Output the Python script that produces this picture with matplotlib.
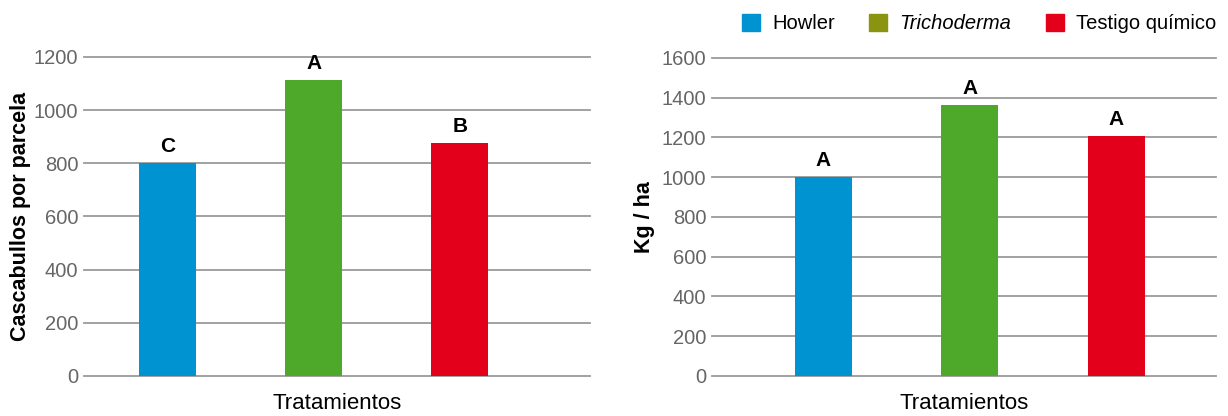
import matplotlib.pyplot as plt
from matplotlib.patches import Patch

plt.rcParams['font.family'] = ['Liberation Sans', 'DejaVu Sans']

# data
tratamientos = ['Howler', 'Trichoderma', 'Testigo químico']
cascabullos = [800, 1113, 876]
letras_cascabullos = ['C', 'A', 'B']
rendimiento = [1000, 1363, 1207]
letras_rendimiento = ['A', 'A', 'A']

bar_colors = ['#0093d1', '#4ea82a', '#e2001a']
legend_colors = ['#0093d1', '#8a9411', '#e2001a']

fig = plt.figure(figsize=(12.28, 4.16), dpi=100)
ax1 = fig.add_axes([0.0684, 0.0962, 0.412, 0.767])
ax2 = fig.add_axes([0.5798, 0.0962, 0.4104, 0.7644])


def draw(ax, values, letters, ymax, ylabel, xlim):
    x = range(len(values))
    ax.bar(x, values, width=0.39, color=bar_colors, zorder=3)
    for xi, v, l in zip(x, values, letters):
        ax.annotate(l, (xi, v), xytext=(0, 5), textcoords='offset points',
                    ha='center', va='bottom', fontsize=15, fontweight='bold')
    ax.set_ylim(0, ymax)
    ax.set_xlim(*xlim)
    ax.set_yticks(range(0, ymax + 1, 200))
    ax.yaxis.grid(True, color='#9a9a9a', linewidth=1.3, zorder=0)
    for gl in ax.get_ygridlines():
        gl.set_clip_on(False)
    ax.set_xticks([])
    for s in ax.spines.values():
        s.set_visible(False)
    ax.tick_params(axis='y', length=0, labelsize=14.5, labelcolor='#666666', pad=4)
    ax.set_ylabel(ylabel, fontsize=15.5, fontweight='bold')
    ax.set_xlabel('Tratamientos', fontsize=16, labelpad=12)


draw(ax1, cascabullos, letras_cascabullos, 1200, 'Cascabullos por parcela', (-0.57, 2.89))
draw(ax2, rendimiento, letras_rendimiento, 1600, 'Kg / ha', (-0.76, 2.68))
ax1.yaxis.labelpad = 2
ax2.yaxis.labelpad = 5

handles = [Patch(color=c) for c in legend_colors]
leg = fig.legend(handles, tratamientos, loc='upper right', bbox_to_anchor=(1.005, 1.01),
                 ncol=3, frameon=False, fontsize=14.5, handlelength=0.9, handleheight=0.9,
                 handletextpad=0.6, columnspacing=1.7)
leg.get_texts()[1].set_fontstyle('italic')

plt.savefig('out.png', dpi=100)
